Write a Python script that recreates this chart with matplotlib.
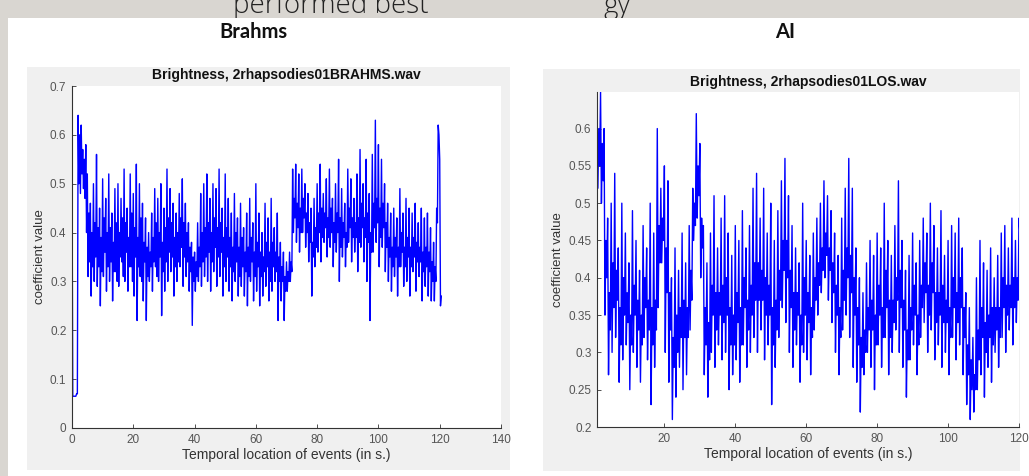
import numpy as np
import matplotlib
matplotlib.use("Agg")
import matplotlib.pyplot as plt
from matplotlib.patches import Rectangle

# ---------------- data ----------------
brahms_title = "Brightness, 2rhapsodies01BRAHMS.wav"
ai_title = "Brightness, 2rhapsodies01LOS.wav"
panel_titles = ["Brahms", "AI"]
x_label = "Temporal location of events (in s.)"
y_label = "coefficient value"

brahms_start, brahms_step = 0.0, 0.25
brahms_values = [
    0.53, 0.065, 0.065, 0.065, 0.065, 0.065, 0.07, 0.07, 0.64, 0.50, 0.60, 0.48, 0.62, 0.52, 0.57, 0.49, 0.55, 0.47, 0.58, 0.40,
    0.52, 0.31, 0.44, 0.34, 0.46, 0.27, 0.40, 0.33, 0.50, 0.30, 0.42, 0.35, 0.56, 0.29, 0.41, 0.33, 0.45, 0.25, 0.39, 0.32,
    0.51, 0.31, 0.43, 0.36, 0.47, 0.28, 0.40, 0.33, 0.52, 0.30, 0.41, 0.34, 0.44, 0.26, 0.38, 0.32, 0.49, 0.32, 0.42, 0.30,
    0.50, 0.29, 0.40, 0.35, 0.47, 0.34, 0.43, 0.31, 0.53, 0.30, 0.42, 0.36, 0.45, 0.28, 0.39, 0.33, 0.52, 0.33, 0.44, 0.30,
    0.48, 0.27, 0.41, 0.35, 0.54, 0.22, 0.39, 0.33, 0.50, 0.31, 0.43, 0.30, 0.46, 0.26, 0.38, 0.34, 0.43, 0.22, 0.37, 0.31,
    0.40, 0.30, 0.36, 0.33, 0.44, 0.28, 0.39, 0.34, 0.49, 0.33, 0.42, 0.31, 0.47, 0.30, 0.40, 0.35, 0.50, 0.23, 0.38, 0.32,
    0.45, 0.28, 0.41, 0.34, 0.53, 0.30, 0.43, 0.36, 0.49, 0.32, 0.42, 0.35, 0.46, 0.27, 0.39, 0.33, 0.44, 0.30, 0.40, 0.34,
    0.48, 0.33, 0.43, 0.37, 0.51, 0.29, 0.42, 0.35, 0.46, 0.31, 0.40, 0.34, 0.42, 0.28, 0.37, 0.32, 0.38, 0.21, 0.35, 0.30,
    0.36, 0.28, 0.34, 0.31, 0.42, 0.30, 0.37, 0.33, 0.48, 0.29, 0.40, 0.34, 0.50, 0.31, 0.41, 0.35, 0.52, 0.30, 0.42, 0.36,
    0.47, 0.28, 0.40, 0.34, 0.50, 0.32, 0.43, 0.37, 0.49, 0.29, 0.41, 0.35, 0.53, 0.31, 0.42, 0.36, 0.45, 0.27, 0.39, 0.33,
    0.52, 0.30, 0.41, 0.35, 0.47, 0.28, 0.39, 0.33, 0.44, 0.26, 0.37, 0.32, 0.48, 0.30, 0.40, 0.34, 0.43, 0.27, 0.37, 0.31,
    0.46, 0.29, 0.39, 0.33, 0.41, 0.27, 0.36, 0.32, 0.44, 0.25, 0.37, 0.31, 0.47, 0.30, 0.39, 0.34, 0.42, 0.26, 0.36, 0.31,
    0.50, 0.28, 0.38, 0.33, 0.44, 0.25, 0.36, 0.31, 0.40, 0.27, 0.35, 0.32, 0.46, 0.29, 0.38, 0.33, 0.43, 0.26, 0.36, 0.30,
    0.47, 0.28, 0.38, 0.33, 0.41, 0.30, 0.36, 0.32, 0.44, 0.22, 0.35, 0.30, 0.38, 0.26, 0.33, 0.30, 0.36, 0.22, 0.31, 0.28,
    0.34, 0.28, 0.32, 0.30, 0.36, 0.30, 0.34, 0.32, 0.53, 0.40, 0.47, 0.43, 0.54, 0.38, 0.46, 0.41, 0.52, 0.36, 0.45, 0.40,
    0.53, 0.40, 0.47, 0.43, 0.50, 0.37, 0.44, 0.40, 0.48, 0.34, 0.42, 0.38, 0.45, 0.27, 0.38, 0.35, 0.47, 0.33, 0.41, 0.37,
    0.50, 0.36, 0.44, 0.40, 0.54, 0.34, 0.45, 0.39, 0.48, 0.38, 0.44, 0.41, 0.51, 0.35, 0.43, 0.39, 0.53, 0.37, 0.45, 0.40,
    0.47, 0.33, 0.42, 0.38, 0.50, 0.36, 0.44, 0.40, 0.55, 0.30, 0.43, 0.37, 0.49, 0.35, 0.42, 0.39, 0.46, 0.33, 0.40, 0.37,
    0.53, 0.38, 0.45, 0.41, 0.51, 0.34, 0.43, 0.39, 0.47, 0.36, 0.42, 0.39, 0.52, 0.32, 0.43, 0.38, 0.57, 0.37, 0.46, 0.41,
    0.50, 0.34, 0.43, 0.39, 0.55, 0.30, 0.44, 0.38, 0.48, 0.22, 0.40, 0.36, 0.56, 0.36, 0.46, 0.41, 0.63, 0.38, 0.47, 0.42,
    0.58, 0.33, 0.45, 0.39, 0.55, 0.37, 0.46, 0.41, 0.50, 0.32, 0.42, 0.37, 0.46, 0.30, 0.39, 0.35, 0.44, 0.28, 0.37, 0.33,
    0.45, 0.31, 0.39, 0.35, 0.43, 0.27, 0.37, 0.33, 0.49, 0.33, 0.40, 0.36, 0.44, 0.29, 0.37, 0.33, 0.47, 0.30, 0.39, 0.35,
    0.45, 0.27, 0.37, 0.33, 0.44, 0.32, 0.39, 0.35, 0.46, 0.28, 0.38, 0.34, 0.42, 0.31, 0.37, 0.34, 0.45, 0.26, 0.36, 0.32,
    0.43, 0.29, 0.37, 0.33, 0.44, 0.27, 0.36, 0.32, 0.41, 0.26, 0.34, 0.30, 0.38, 0.26, 0.33, 0.30, 0.45, 0.42, 0.62, 0.60,
    0.55, 0.25, 0.27,
]

ai_start, ai_step = 1.0, 0.25
ai_values = [
    0.63, 0.52, 0.60, 0.55, 0.65, 0.50, 0.58, 0.53, 0.60, 0.35, 0.45, 0.40, 0.48, 0.27, 0.38, 0.33, 0.50, 0.30, 0.42, 0.36,
    0.54, 0.32, 0.41, 0.37, 0.44, 0.26, 0.36, 0.31, 0.50, 0.29, 0.40, 0.35, 0.46, 0.31, 0.38, 0.34, 0.42, 0.25, 0.35, 0.31,
    0.49, 0.30, 0.39, 0.35, 0.45, 0.28, 0.37, 0.33, 0.41, 0.26, 0.35, 0.31, 0.47, 0.32, 0.40, 0.36, 0.44, 0.29, 0.37, 0.33,
    0.50, 0.23, 0.36, 0.31, 0.46, 0.28, 0.37, 0.33, 0.60, 0.36, 0.47, 0.42, 0.52, 0.42, 0.48, 0.45, 0.55, 0.30, 0.44, 0.38,
    0.53, 0.26, 0.38, 0.33, 0.40, 0.21, 0.32, 0.28, 0.44, 0.24, 0.35, 0.30, 0.41, 0.28, 0.36, 0.32, 0.46, 0.25, 0.37, 0.32,
    0.42, 0.27, 0.36, 0.32, 0.47, 0.33, 0.41, 0.37, 0.52, 0.45, 0.50, 0.47, 0.62, 0.48, 0.55, 0.51, 0.58, 0.40, 0.48, 0.44,
    0.47, 0.27, 0.36, 0.31, 0.42, 0.24, 0.34, 0.29, 0.46, 0.30, 0.39, 0.35, 0.51, 0.28, 0.38, 0.33, 0.44, 0.31, 0.38, 0.35,
    0.48, 0.29, 0.39, 0.34, 0.51, 0.30, 0.40, 0.35, 0.46, 0.25, 0.36, 0.31, 0.43, 0.27, 0.35, 0.31, 0.47, 0.29, 0.38, 0.34,
    0.45, 0.26, 0.36, 0.31, 0.49, 0.31, 0.40, 0.36, 0.44, 0.28, 0.37, 0.33, 0.47, 0.30, 0.39, 0.35, 0.52, 0.32, 0.42, 0.37,
    0.54, 0.30, 0.42, 0.37, 0.48, 0.33, 0.41, 0.37, 0.52, 0.29, 0.40, 0.35, 0.46, 0.31, 0.39, 0.35, 0.50, 0.23, 0.36, 0.31,
    0.45, 0.28, 0.37, 0.33, 0.49, 0.32, 0.41, 0.37, 0.53, 0.36, 0.45, 0.41, 0.56, 0.34, 0.45, 0.40, 0.51, 0.30, 0.41, 0.36,
    0.47, 0.28, 0.38, 0.33, 0.44, 0.31, 0.38, 0.35, 0.42, 0.26, 0.35, 0.31, 0.50, 0.30, 0.40, 0.35, 0.45, 0.29, 0.38, 0.34,
    0.43, 0.27, 0.36, 0.32, 0.46, 0.33, 0.40, 0.37, 0.48, 0.35, 0.42, 0.39, 0.50, 0.38, 0.44, 0.41, 0.53, 0.40, 0.46, 0.43,
    0.51, 0.37, 0.44, 0.41, 0.49, 0.34, 0.42, 0.38, 0.46, 0.30, 0.39, 0.35, 0.43, 0.27, 0.36, 0.32, 0.48, 0.33, 0.41, 0.37,
    0.52, 0.35, 0.44, 0.40, 0.56, 0.32, 0.43, 0.38, 0.52, 0.28, 0.40, 0.35, 0.44, 0.26, 0.36, 0.31, 0.40, 0.22, 0.32, 0.28,
    0.38, 0.27, 0.33, 0.30, 0.42, 0.30, 0.36, 0.33, 0.45, 0.28, 0.37, 0.33, 0.43, 0.25, 0.35, 0.31, 0.46, 0.31, 0.39, 0.35,
    0.44, 0.28, 0.36, 0.32, 0.50, 0.32, 0.41, 0.36, 0.45, 0.27, 0.37, 0.32, 0.43, 0.30, 0.37, 0.34, 0.47, 0.33, 0.40, 0.37,
    0.53, 0.30, 0.41, 0.36, 0.45, 0.28, 0.37, 0.33, 0.41, 0.24, 0.33, 0.29, 0.43, 0.29, 0.36, 0.33, 0.46, 0.31, 0.39, 0.35,
    0.42, 0.27, 0.35, 0.31, 0.45, 0.32, 0.39, 0.36, 0.48, 0.34, 0.42, 0.38, 0.46, 0.30, 0.39, 0.35, 0.50, 0.33, 0.42, 0.38,
    0.47, 0.29, 0.38, 0.34, 0.44, 0.31, 0.38, 0.35, 0.49, 0.28, 0.39, 0.34, 0.43, 0.30, 0.37, 0.34, 0.45, 0.27, 0.36, 0.32,
    0.47, 0.32, 0.40, 0.36, 0.46, 0.29, 0.38, 0.34, 0.48, 0.31, 0.40, 0.36, 0.44, 0.27, 0.36, 0.32, 0.38, 0.23, 0.31, 0.27,
    0.36, 0.21, 0.29, 0.25, 0.32, 0.22, 0.27, 0.25, 0.40, 0.25, 0.33, 0.29, 0.45, 0.27, 0.36, 0.32, 0.42, 0.24, 0.34, 0.30,
    0.41, 0.28, 0.35, 0.32, 0.44, 0.26, 0.36, 0.31, 0.40, 0.30, 0.36, 0.33, 0.43, 0.28, 0.36, 0.32, 0.46, 0.32, 0.40, 0.36,
    0.47, 0.30, 0.39, 0.35, 0.44, 0.33, 0.39, 0.36, 0.48, 0.31, 0.40, 0.36, 0.45, 0.34, 0.40, 0.37, 0.48, 0.46, 0.47, 0.46,
]

brahms_xticks = [0, 20, 40, 60, 80, 100, 120, 140]
brahms_yticks = [0, 0.1, 0.2, 0.3, 0.4, 0.5, 0.6, 0.7]
brahms_yticklabels = ["0", "0.1", "0.2", "0.3", "0.4", "0.5", "0.6", "0.7"]
ai_xticks = [20, 40, 60, 80, 100, 120]
ai_yticks = [0.2, 0.25, 0.3, 0.35, 0.4, 0.45, 0.5, 0.55, 0.6]
ai_yticklabels = ["0.2", "0.25", "0.3", "0.35", "0.4", "0.45", "0.5", "0.55", "0.6"]

# ---------------- figure ----------------
W, H = 1029, 476
fig = plt.figure(figsize=(W / 100, H / 100), dpi=100)
fig.patch.set_facecolor("white")

def px_rect(x0, y0, x1, y1, color, z=0):
    fig.add_artist(Rectangle((x0 / W, 1 - y1 / H), (x1 - x0) / W, (y1 - y0) / H,
                             transform=fig.transFigure, facecolor=color,
                             edgecolor="none", zorder=z))

slide_gray = "#d9d6d1"
mat_gray = "#f0f0f0"
# slide background
px_rect(0, 0, W, H, slide_gray, z=-3)

# cut-off slide heading text (only its lower edge shows)
fig.text(233 / W, 1 - 13 / H, "performed best", fontsize=20, family="Open Sans",
         fontweight="light", color="#222222", ha="left", va="baseline", zorder=-2)
fig.text(603 / W, 1 - 13 / H, "gy", fontsize=20, family="Open Sans",
         fontweight="light", color="#222222", ha="left", va="baseline", zorder=-2)
# white content panel hides the upper text
px_rect(8, 18, W, H, "white", z=-1)
# matlab figure backgrounds
px_rect(27, 67, 510, 470, mat_gray, z=-0.5)
px_rect(543, 69, 1020, 471, mat_gray, z=-0.5)

fig.text(253 / W, 1 - 32 / H, panel_titles[0], fontsize=14.5, fontweight="bold",
         family="Lato", color="#111111", ha="center", va="center")
fig.text(785 / W, 1 - 32 / H, panel_titles[1], fontsize=14.5, fontweight="bold",
         family="Lato", color="#111111", ha="center", va="center")

tick_color = "#555555"
axis_color = "#333333"
font = "Liberation Sans"
line_color = "#0000ff"

def style(ax):
    ax.set_facecolor("white")
    for s in ["top", "right"]:
        ax.spines[s].set_visible(False)
    for s in ["left", "bottom"]:
        ax.spines[s].set_color(axis_color)
        ax.spines[s].set_linewidth(0.8)
    ax.tick_params(direction="in", length=3, width=0.6, color=axis_color,
                   labelsize=8.5, labelcolor=tick_color, pad=4)
    for lab in ax.get_xticklabels() + ax.get_yticklabels():
        lab.set_family(font)

# left axes
axL = fig.add_axes([72 / W, 1 - 428 / H, (501 - 72) / W, (428 - 86) / H])
tb = brahms_start + brahms_step * np.arange(len(brahms_values))
axL.plot(tb, brahms_values, color=line_color, lw=1.0)
axL.set_xlim(0, 140)
axL.set_ylim(0, 0.7)
axL.set_xticks(brahms_xticks)
axL.set_xticklabels([str(v) for v in brahms_xticks])
axL.set_yticks(brahms_yticks)
axL.set_yticklabels(brahms_yticklabels)
style(axL)
axL.set_title(brahms_title, fontsize=10, fontweight="bold", family=font,
              color="#111111", pad=5)
axL.set_xlabel(x_label, fontsize=10, family=font, color="#333333", labelpad=2)
axL.set_ylabel(y_label, fontsize=9.5, family=font, color="#333333", labelpad=3)

# right axes
axR = fig.add_axes([597 / W, 1 - 427 / H, (1019 - 597) / W, (427 - 92) / H])
ta = ai_start + ai_step * np.arange(len(ai_values))
axR.plot(ta, ai_values, color=line_color, lw=1.0)
axR.set_xlim(1, 120)
axR.set_ylim(0.2, 0.649)
axR.set_xticks(ai_xticks)
axR.set_xticklabels([str(v) for v in ai_xticks])
axR.set_yticks(ai_yticks)
axR.set_yticklabels(ai_yticklabels)
style(axR)
axR.set_title(ai_title, fontsize=10, fontweight="bold", family=font,
              color="#111111", pad=4)
axR.set_xlabel(x_label, fontsize=10, family=font, color="#333333", labelpad=2)
axR.set_ylabel(y_label, fontsize=9.5, family=font, color="#333333", labelpad=3)

fig.savefig("out.png", dpi=100)
